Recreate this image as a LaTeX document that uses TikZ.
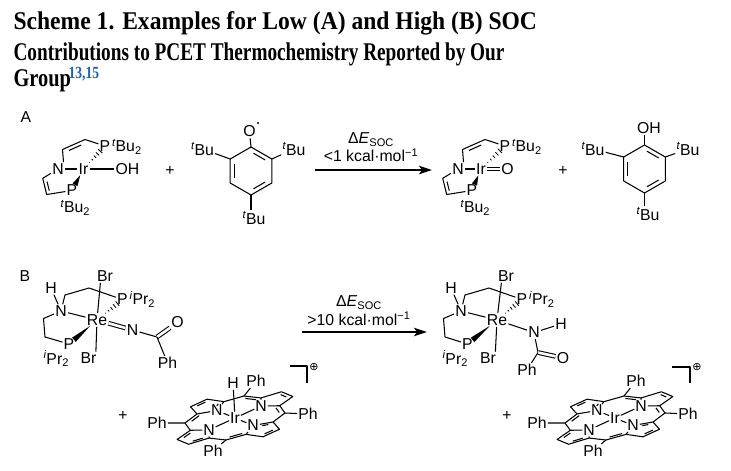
\documentclass[tikz,border=0pt]{standalone}
\usepackage{fontspec}
\setmainfont{Liberation Serif}
\setsansfont{Liberation Sans}
\newfontfamily\symfont{DejaVu Sans}
\usepackage{graphicx}
\usetikzlibrary{calc,arrows.meta}
\definecolor{refblue}{RGB}{35,95,170}
\newcommand\chem{\sffamily\fontsize{15.8}{18}\selectfont}
\newcommand\ttlfont{\rmfamily\bfseries\fontsize{25.5}{28}\selectfont}
\newcommand\tBu{\textsuperscript{\itshape t}Bu}
\newcommand\iPr{\textsuperscript{\itshape i}Pr}
\newcommand\wedgeb[5]{%
  \coordinate (wS) at ($(#1)!#3!(#2)$);
  \coordinate (wE) at ($(#2)!#4!(#1)$);
  \fill (wS) -- ($(wE)!#5!90:(wS)$) -- ($(wE)!#5!-90:(wS)$) -- cycle;}
\newcommand\hashb[5]{%
  \coordinate (wS) at ($(#1)!#3!(#2)$);
  \coordinate (wE) at ($(#2)!#4!(#1)$);
  \coordinate (wA) at ($(wE)!#5!90:(wS)$);
  \coordinate (wB) at ($(wE)!#5!-90:(wS)$);
  \foreach \hh in {0.12,0.34,0.56,0.78,1}{\draw[line width=0.85pt] ($(wS)!\hh!(wA)$) -- ($(wS)!\hh!(wB)$);}}
\newcommand\inl[6]{%
  \coordinate (iA) at ($(#1)!#4!(#2)$);
  \coordinate (iB) at ($(#2)!#5!(#1)$);
  \draw ($(iA)!#6!(#3)$) -- ($(iB)!#6!(#3)$);}
\newcommand\ring[3]{%
  \begin{scope}[shift={(#2,#3)}]
  \coordinate (#1v1) at (0,-24); \coordinate (#1v2) at (20.8,-12);
  \coordinate (#1v3) at (20.8,12); \coordinate (#1v4) at (0,24);
  \coordinate (#1v5) at (-20.8,12); \coordinate (#1v6) at (-20.8,-12);
  \coordinate (#1c) at (0,0);
  \end{scope}
  \draw (#1v1) -- (#1v2) -- (#1v3) -- (#1v4) -- (#1v5) -- (#1v6) -- cycle;
  \inl{#1v1}{#1v2}{#1c}{0.15}{0.15}{0.2}
  \inl{#1v3}{#1v4}{#1c}{0.15}{0.15}{0.2}
  \inl{#1v5}{#1v6}{#1c}{0.15}{0.15}{0.2}}
\newcommand\porph[3]{%
  \begin{scope}[shift={(#2,#3)}, x={(14.7pt,1.47pt)}, y={(2.65pt,6.47pt)}]
  \node[pn] (#1Ir) at (0,0) {Ir};
  \node[pn] (#1N1) at (1.5,1.5) {N};
  \node[pn] (#1N2) at (-1.5,1.5) {N};
  \node[pn] (#1N3) at (-1.5,-1.5) {N};
  \node[pn] (#1N4) at (1.5,-1.5) {N};
  \coordinate (#1a1p) at (1.259,2.814); \coordinate (#1a1m) at (2.814,1.259);
  \coordinate (#1b1p) at (2.528,3.482); \coordinate (#1b1m) at (3.482,2.528);
  \coordinate (#1a2p) at (-2.814,1.259); \coordinate (#1a2m) at (-1.259,2.814);
  \coordinate (#1b2p) at (-3.482,2.528); \coordinate (#1b2m) at (-2.528,3.482);
  \coordinate (#1a3p) at (-1.259,-2.814); \coordinate (#1a3m) at (-2.814,-1.259);
  \coordinate (#1b3p) at (-2.528,-3.482); \coordinate (#1b3m) at (-3.482,-2.528);
  \coordinate (#1a4p) at (2.814,-1.259); \coordinate (#1a4m) at (1.259,-2.814);
  \coordinate (#1b4p) at (3.482,-2.528); \coordinate (#1b4m) at (2.528,-3.482);
  \coordinate (#1m0) at (3.4,0); \coordinate (#1m90) at (0,3.4);
  \coordinate (#1m180) at (-3.4,0); \coordinate (#1m270) at (0,-3.4);
  \coordinate (#1c0) at (0,0);
  \coordinate (#1c1) at (2.305,2.305); \coordinate (#1c2) at (-2.305,2.305);
  \coordinate (#1c3) at (-2.305,-2.305); \coordinate (#1c4) at (2.305,-2.305);
  \end{scope}
  \node[atom] (#1Phl) at ($(#1Ir)+(-78,5)$) {Ph};
  \node[atom] (#1Pht) at ($(#1Ir)+(21,-37)$) {Ph};
  \node[atom] (#1Phr) at ($(#1Ir)+(73,-4)$) {Ph};
  \node[atom] (#1Phb) at ($(#1Ir)+(-22,33)$) {Ph};
  \draw (#1N1) -- (#1a1p) -- (#1b1p) -- (#1b1m) -- (#1a1m) -- (#1N1);
  \draw (#1N2) -- (#1a2p) -- (#1b2p) -- (#1b2m) -- (#1a2m) -- (#1N2);
  \draw (#1N3) -- (#1a3p) -- (#1b3p) -- (#1b3m) -- (#1a3m) -- (#1N3);
  \draw (#1N4) -- (#1a4p) -- (#1b4p) -- (#1b4m) -- (#1a4m) -- (#1N4);
  \draw (#1a1m) -- (#1m0) -- (#1a4p);
  \draw (#1a1p) -- (#1m90) -- (#1a2m);
  \draw (#1a2p) -- (#1m180) -- (#1a3m);
  \draw (#1a3p) -- (#1m270) -- (#1a4m);
  \draw (#1Ir) -- (#1N1); \draw (#1Ir) -- (#1N2);
  \draw (#1Ir) -- (#1N3); \draw (#1Ir) -- (#1N4);
  \draw (#1m0) -- (#1Phr); \draw (#1m90) -- (#1Pht);
  \draw (#1m180) -- (#1Phl); \draw (#1m270) -- (#1Phb);
  \inl{#1a2m}{#1N2}{#1c2}{0.12}{0.55}{0.3}
  \inl{#1b2p}{#1b2m}{#1c2}{0.15}{0.15}{0.3}
  \inl{#1a2p}{#1m180}{#1c0}{0.15}{0.15}{0.1}
  \inl{#1a3m}{#1b3m}{#1c3}{0.15}{0.15}{0.3}
  \inl{#1a3p}{#1b3p}{#1c3}{0.15}{0.15}{0.3}
  \inl{#1m270}{#1a4m}{#1c0}{0.15}{0.15}{0.1}
  \inl{#1a4p}{#1N4}{#1c4}{0.12}{0.45}{0.3}
  \inl{#1b4p}{#1b4m}{#1c4}{0.15}{0.15}{0.3}
  \inl{#1m0}{#1a1m}{#1c0}{0.15}{0.15}{0.1}
  \inl{#1b1p}{#1b1m}{#1c1}{0.15}{0.15}{0.3}
  \inl{#1a1p}{#1m90}{#1c0}{0.15}{0.15}{0.1}}
\begin{document}
\begin{tikzpicture}[x=1pt, y=-1pt, line width=1.05pt, line join=round,
  atom/.style={font=\chem, inner sep=0.8pt},
  pn/.style={font=\chem, inner sep=0.5pt},
  lab/.style={font=\chem, inner sep=0pt},
  ttl/.style={font=\ttlfont, inner sep=0pt, anchor=base west},
  arr/.style={line width=1.7pt, -{Stealth[length=13pt,width=8.5pt,inset=3pt]}},
  dbl/.style={double distance=2.6pt}]
\fill[white] (0,0) rectangle (731,471);
\useasboundingbox (0,0) rectangle (731,471);

% ---------- title ----------
\node[ttl] (t1) at (13,29) {\scalebox{0.925}[1]{Scheme 1. Examples for Low (A) and High (B) SOC}};
\node[ttl] (t2) at (13,60.5) {\scalebox{0.755}[1]{Contributions to PCET Thermochemistry Reported by Our}};
\node[ttl] (t3) at (13,86.5) {\scalebox{0.8}[1]{Group}};
\node[anchor=base west, inner sep=0, font=\rmfamily\bfseries\fontsize{17}{20}\selectfont, text=refblue] (t4) at (68,78) {\scalebox{0.8}[1]{13,15}};

% ---------- part A ----------
\node[lab] (labA) at (26,117) {A};
% Ir-OH complex
\node[atom] (N1) at (58,169) {N};
\node[atom] (Ir1) at (83.5,169) {Ir};
\node[atom] (OH1) at (127.5,169) {OH};
\node[atom] (PA1) at (105,146) {P};
\node[lab, anchor=base west] (tA1) at (PA1.base east) {\tBu\textsubscript{2}};
\node[atom] (PA2) at (72,190.5) {P};
\node[lab, anchor=base west] (tA2) at (60,212.5) {\tBu\textsubscript{2}};
\coordinate (cA1) at (62.5,149.5); \coordinate (cA2) at (85,139.5);
\coordinate (cA3) at (42.7,178.3); \coordinate (cA4) at (46.7,194.5);
\coordinate (rA1) at (78,158); \coordinate (rA2) at (62,185);
\draw (N1) -- (Ir1); \draw (Ir1) -- (OH1);
\draw ([xshift=-1.5pt]N1.north east) -- (cA1) -- (cA2) -- (PA1);
\draw (N1) -- (cA3) -- (cA4) -- (PA2);
\inl{cA1}{cA2}{rA1}{0.15}{0.12}{0.25}
\inl{cA3}{cA4}{rA2}{0.15}{0.15}{0.2}
\hashb{Ir1}{PA1}{7pt}{7pt}{2.8pt}
\wedgeb{Ir1}{PA2}{7pt}{6.5pt}{2.8pt}

\node[lab] (plA1) at (170,171) {+};

% phenoxyl radical
\ring{x}{251}{171}
\node[atom] (xO) at (249.5,131.5) {O};
\node[circle, fill, inner sep=0, minimum size=2.4pt] (xdot) at (258,123) {};
\node[atom] (xtL) at (202.5,149) {\tBu};
\node[atom] (xtR) at (294,149) {\tBu};
\node[atom] (xtB) at (254,218) {\tBu};
\draw (xv1) -- (xO);
\draw (xv6) -- (xtL); \draw (xv2) -- (xtR);
\draw (xv4) -- (xv4 |- xtB.north);

% arrow A
\coordinate (arA1) at (315,170); \coordinate (arA2) at (432,170);
\draw[arr] (arA1) -- (arA2);
\node[lab, anchor=base] (dEA) at (371,143.5) {Δ\textit{E}\textsubscript{SOC}};
\node[lab, anchor=base] (kA) at (371,161.5) {<1 kcal·mol\textsuperscript{−1}};

% Ir=O complex
\node[atom] (N2) at (458,169) {N};
\node[atom] (Ir2) at (481,169) {Ir};
\node[atom] (O2) at (507.5,169) {O};
\node[atom] (PA3) at (505,146) {P};
\node[lab, anchor=base west] (tA3) at (PA3.base east) {\tBu\textsubscript{2}};
\node[atom] (PA4) at (472,190.5) {P};
\node[lab, anchor=base west] (tA4) at (460,212.5) {\tBu\textsubscript{2}};
\coordinate (cA5) at (462.5,149.5); \coordinate (cA6) at (485,139.5);
\coordinate (cA7) at (442.7,178.3); \coordinate (cA8) at (446.7,194.5);
\coordinate (rA3) at (478,158); \coordinate (rA4) at (462,185);
\draw (N2) -- (Ir2); \draw[dbl] (Ir2) -- (O2);
\draw ([xshift=-1.5pt]N2.north east) -- (cA5) -- (cA6) -- (PA3);
\draw (N2) -- (cA7) -- (cA8) -- (PA4);
\inl{cA5}{cA6}{rA3}{0.15}{0.12}{0.25}
\inl{cA7}{cA8}{rA4}{0.15}{0.15}{0.2}
\hashb{Ir2}{PA3}{7pt}{7pt}{2.8pt}
\wedgeb{Ir2}{PA4}{7pt}{6.5pt}{2.8pt}

\node[lab] (plA2) at (563,171) {+};

% phenol
\ring{y}{644.5}{169}
\node[atom] (yOH) at (649,128) {OH};
\node[atom] (ytL) at (593,149) {\tBu};
\node[atom] (ytR) at (688,149) {\tBu};
\node[atom] (ytB) at (648,214) {\tBu};
\draw (yv1) -- (yv1 |- yOH.south);
\draw (yv6) -- (ytL); \draw (yv2) -- (ytR);
\draw (yv4) -- (yv4 |- ytB.north);

% ---------- part B ----------
\node[lab] (labB) at (25,276) {B};
% Re imido complex
\node[atom] (BrT1) at (105,276) {Br};
\node[atom] (HB1) at (51,288) {H};
\node[atom] (NB1) at (61,311) {N};
\node[atom] (Re1) at (97,320) {Re};
\node[atom] (PB1) at (122.5,299.5) {P};
\node[lab, anchor=base west] (iB1) at (PB1.base east) {\iPr\textsubscript{2}};
\node[atom] (PB2) at (69,344) {P};
\node[lab, anchor=base west] (iB2) at (43,364) {\iPr\textsubscript{2}};
\node[atom] (BrB1) at (88.5,358.5) {Br};
\node[atom] (NB2) at (132.5,330) {N};
\coordinate (CB1) at (157,337);
\node[atom] (OB1) at (177.5,322.5) {O};
\node[atom] (PhB1) at (167.5,363) {Ph};
\coordinate (cB1) at (65,295); \coordinate (cB2) at (89,288);
\coordinate (cB3) at (43.5,318.5); \coordinate (cB4) at (45,337);
\draw (HB1) -- (NB1);
\draw (NB1) -- (cB1) -- (cB2) -- (PB1);
\draw (NB1) -- (cB3) -- (cB4) -- (PB2);
\draw (NB1) -- (Re1);
\draw (Re1) -- ($(BrT1.south west)!0.25!(BrT1.south east)$);
\draw (Re1) -- ($(BrB1.north west)!0.9!(BrB1.north east)$);
\hashb{Re1}{PB1}{9pt}{6.5pt}{2.8pt}
\wedgeb{Re1}{PB2}{9pt}{6.5pt}{2.8pt}
\draw[dbl] (Re1) -- (NB2);
\draw (NB2) -- (CB1);
\draw[dbl] (CB1) -- (OB1);
\draw (CB1) -- (PhB1);

% arrow B
\coordinate (arB1) at (302,332); \coordinate (arB2) at (427,332);
\draw[arr] (arB1) -- (arB2);
\node[lab, anchor=base] (dEB) at (359,306.5) {Δ\textit{E}\textsubscript{SOC}};
\node[lab, anchor=base] (kB) at (359,325) {>10 kcal·mol\textsuperscript{−1}};

% Re amido complex
\node[atom] (BrT2) at (506,276) {Br};
\node[atom] (HB2) at (451,288) {H};
\node[atom] (NB3) at (461,311) {N};
\node[atom] (Re2) at (497,320) {Re};
\node[atom] (PB3) at (522,299.5) {P};
\node[lab, anchor=base west] (iB3) at (PB3.base east) {\iPr\textsubscript{2}};
\node[atom] (PB4) at (467.5,344) {P};
\node[lab, anchor=base west] (iB4) at (442,364) {\iPr\textsubscript{2}};
\node[atom] (BrB2) at (488,358.5) {Br};
\node[atom] (NB4) at (534,332.5) {N};
\node[atom] (HB3) at (561,324) {H};
\coordinate (CB2) at (538,352.5);
\node[atom] (OB2) at (563,358) {O};
\node[atom] (PhB2) at (527,370) {Ph};
\coordinate (cB5) at (465,295); \coordinate (cB6) at (489,288);
\coordinate (cB7) at (443.5,318.5); \coordinate (cB8) at (445,337);
\draw (HB2) -- (NB3);
\draw (NB3) -- (cB5) -- (cB6) -- (PB3);
\draw (NB3) -- (cB7) -- (cB8) -- (PB4);
\draw (NB3) -- (Re2);
\draw (Re2) -- ($(BrT2.south west)!0.25!(BrT2.south east)$);
\draw (Re2) -- ($(BrB2.north west)!0.9!(BrB2.north east)$);
\hashb{Re2}{PB3}{9pt}{6.5pt}{2.8pt}
\wedgeb{Re2}{PB4}{9pt}{6.5pt}{2.8pt}
\draw (Re2) -- (NB4);
\draw (NB4) -- (HB3);
\draw (NB4) -- (CB2);
\draw[dbl] (CB2) -- (OB2);
\draw (CB2) -- (PhB2);

% porphyrins
\node[lab] (plB1) at (123,416) {+};
\porph{r}{235}{418}
\node[atom] (rH) at (233,383) {H};
\draw (rIr) -- (rH);
\coordinate (rk1) at (290,366); \coordinate (rk2) at (307,366); \coordinate (rk3) at (307,383);
\draw (rk1) -- (rk2) -- (rk3);
\node[inner sep=0, font=\symfont\fontsize{11}{12}\selectfont] (rchg) at (314,367) {⊕};

\node[lab] (plB2) at (507,416) {+};
\porph{p}{615}{418}
\coordinate (pk1) at (672,367); \coordinate (pk2) at (690,367); \coordinate (pk3) at (690,383);
\draw (pk1) -- (pk2) -- (pk3);
\node[inner sep=0, font=\symfont\fontsize{11}{12}\selectfont] (pchg) at (697,367) {⊕};
\end{tikzpicture}
\end{document}
